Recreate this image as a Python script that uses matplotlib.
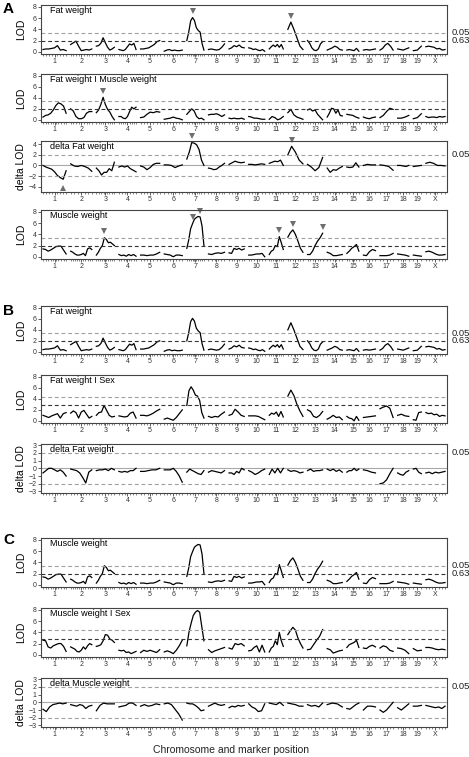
import numpy as np
import matplotlib
matplotlib.use("Agg")
import matplotlib.pyplot as plt
import matplotlib.transforms as mtransforms

plt.rcParams['font.family'] = ['Liberation Sans', 'DejaVu Sans']

chrom_names = ["1", "2", "3", "4", "5", "6", "7", "8", "9", "10", "11", "12",
               "13", "14", "15", "16", "17", "18", "19", "X"]
chrom_len = [104, 95, 81, 77, 86, 81, 77, 72, 68, 72, 63, 68, 68, 68, 54, 54, 59, 50, 36, 86]

# LOD profiles, one list per chromosome (markers evenly spread along it)
fat_lod = [
    [0.4, 0.5, 0.5, 0.6, 0.7, 1.1, 0.3, 0.4, 0.2],
    [1.3, 1.6, 1.9, 1.0, 0.2, 0.3, 0.4, 0.3, 0.5],
    [1.0, 1.1, 1.5, 2.5, 1.6, 0.8, 0.3, 0.5, 0.8],
    [0.4, 0.3, 0.2, 0.4, 0.9, 1.4, 1.2, 1.5, 0.4],
    [0.5, 0.5, 0.6, 0.7, 1.0, 1.3, 1.8, 2.0],
    [0.1, 0.3, 0.4, 0.2, 0.3, 0.2, 0.2, 0.3],
    [2.0, 3.5, 5.5, 6.1, 5.6, 4.3, 3.8, 3.5, 1.5, 0.3],
    [0.4, 0.5, 0.4, 0.3, 0.4, 0.8, 1.4],
    [0.5, 0.7, 1.1, 0.9, 1.2, 0.8, 0.7],
    [0.7, 0.6, 0.4, 0.5, 0.3, 0.2, 0.4, 0.1],
    [0.5, 0.9, 1.2, 0.9, 1.3, 0.8, 1.3, 0.5],
    [4.0, 5.3, 4.0, 2.5, 1.0, 0.4],
    [2.0, 1.5, 0.7, 0.3, 0.2, 0.5, 1.4, 1.8],
    [0.3, 0.5, 0.7, 1.0, 0.8, 0.4, 0.3],
    [0.3, 0.4, 0.3, 0.2, 0.6, 0.1],
    [0.3, 0.4, 0.3, 0.4, 0.5],
    [0.3, 0.6, 1.2, 1.5, 1.0, 0.3],
    [0.5, 0.4, 0.3, 0.5, 0.7],
    [0.2, 0.3, 1.0],
    [0.9, 1.0, 0.9, 0.8, 0.5, 0.6, 0.3, 0.4],
]

fat_given_muscle = [
    [0.5, 0.8, 0.9, 1.2, 1.8, 2.6, 3.1, 2.9, 2.5, 1.2],
    [2.0, 1.6, 0.6, 0.2, 0.2, 0.4, 1.2, 1.5, 1.5],
    [1.3, 1.8, 2.8, 4.1, 2.8, 1.9, 1.4, 0.6, 0.0],
    [0.6, 0.6, 0.3, 0.2, 0.6, 1.5, 2.3, 2.0, 2.3],
    [0.4, 0.5, 1.0, 1.4, 1.3, 1.5, 1.4],
    [0.1, 0.2, 0.3, 0.5, 0.3, 0.2, 0.0],
    [1.0, 1.5, 2.0, 1.6, 0.6, 0.2, 0.3, 0.0],
    [0.9, 1.0, 1.0, 1.1, 0.9, 0.6, 0.9],
    [0.3, 0.2, 0.3, 0.2, 0.2, 0.3, 0.1],
    [0.6, 0.5, 0.3, 0.3, 0.2, 0.1, 0.1],
    [0.1, 0.6, 0.4, 0.0, 0.2, 0.6],
    [1.3, 1.9, 0.9, 0.5, 0.3, 0.1],
    [1.8, 2.0, 1.6, 1.8, 1.0, 0.5, 0.0],
    [0.5, 1.2, 2.1, 2.0, 1.2, 1.8, 0.8, 0.7],
    [1.0, 0.9, 0.8, 0.5, 0.3],
    [0.5, 0.3, 0.2, 0.4, 0.5],
    [0.4, 0.8, 1.5, 2.1, 1.9],
    [0.3, 0.3, 0.5, 0.8],
    [0.2, 0.4, 1.1],
    [0.6, 0.4, 0.5, 0.5, 0.4, 0.6, 0.5, 0.6],
]

delta_fat_muscle = [
    [0.0, -0.3, -0.5, -0.7, -1.2, -1.9, -2.3, -2.6, -1.0],
    [0.3, -0.1, -0.2, 0.0, -0.2, -0.5, -1.1],
    [-0.5, -1.0, -1.8, -1.3, -1.3, -0.6, -1.0, 0.6],
    [-0.3, -0.1, -0.3, -0.1, -0.6, -0.9, -1.2],
    [-0.1, -0.3, -0.8, -0.4, 0.2, 0.4, 0.4],
    [0.1, 0.1, 0.0, -0.4, -0.1, 0.1],
    [1.2, 2.5, 4.3, 4.2, 3.9, 3.0, 1.0, 0.0],
    [-0.5, -0.6, -0.8, -0.7, -0.3, 0.0, 0.4],
    [0.2, 0.5, 0.8, 0.6, 0.5, 0.6],
    [0.2, 0.2, 0.1, 0.2, 0.3, 0.2],
    [0.4, 0.6, 0.8, 0.7, 1.0, 0.0],
    [2.0, 3.6, 2.5, 1.0, 0.3],
    [0.2, -0.3, -1.0, -0.4, 1.5],
    [-0.5, -1.3, -0.8, -0.9, -0.5, -0.2],
    [-0.3, -0.4, -0.3, 0.5, -0.3],
    [0.0, 0.2, 0.1, 0.1],
    [0.1, 0.0, -0.2, -0.9],
    [0.0, 0.0, -0.1, -0.2, 0.0],
    [-0.2, -0.1, 0.0],
    [0.4, 0.6, 0.4, 0.0, 0.0, -0.1],
]

muscle_lod = [
    [1.4, 1.3, 1.0, 1.2, 1.5, 1.8, 1.9, 1.9, 1.2, 0.5],
    [1.0, 0.8, 0.5, 0.3, 0.3, 0.4, 0.6, 0.2, 1.4, 1.6, 1.3],
    [0.3, 0.8, 1.5, 2.0, 3.4, 3.1, 2.5, 2.6, 2.3, 2.0],
    [0.4, 0.2, 0.3, 0.1, 0.4, 0.2, 0.4, 0.1],
    [0.3, 0.3, 0.2, 0.3, 0.3, 0.5, 0.8],
    [0.5, 0.4, 0.3, 0.0, 0.3, 0.3, 0.2],
    [1.5, 3.0, 5.0, 5.9, 6.7, 7.0, 7.2, 7.1, 5.5, 2.0],
    [0.5, 0.4, 0.6, 0.7, 0.6, 0.8],
    [0.7, 0.6, 1.5, 1.3, 1.5, 1.2, 1.4],
    [0.3, 0.3, 0.4, 0.5, 0.5, 0.6, 0.0],
    [0.4, 1.0, 1.2, 2.0, 1.8, 3.6, 2.5, 1.3],
    [3.5, 4.3, 4.8, 4.0, 2.8, 1.5, 0.8],
    [0.4, 0.4, 1.0, 2.0, 2.8, 3.4, 4.2],
    [0.8, 0.6, 0.2, 0.2, 0.3, 0.4],
    [0.6, 1.0, 1.5, 1.8, 2.2, 1.0],
    [0.3, 0.2, 0.9, 1.3, 1.1],
    [0.2, 0.2, 0.2, 0.3, 0.6],
    [0.5, 0.4, 0.3, 0.1],
    [0.3, 0.2, 0.1],
    [0.9, 1.0, 0.8, 0.5, 0.3, 0.3, 0.4],
]

fat_given_sex = [
    [1.0, 0.8, 0.6, 0.9, 1.1, 1.3, 0.5, 1.3, 1.5],
    [1.4, 1.8, 1.5, 0.5, 1.6, 1.9, 1.2, 0.5, 0.8],
    [1.0, 1.5, 1.6, 2.8, 1.9, 1.0, 0.7, 0.8],
    [0.9, 0.8, 0.7, 0.8, 1.4, 1.6, 0.5],
    [1.0, 1.0, 0.9, 1.1, 1.4, 1.8, 2.1],
    [0.3, 0.5, 0.3, 0.1, 0.6, 1.3, 2.0],
    [2.8, 5.5, 6.2, 5.6, 4.7, 4.5, 3.7, 1.5, 0.5],
    [0.8, 0.6, 0.8, 0.7, 1.2, 1.6],
    [1.0, 1.2, 2.1, 1.6, 1.0, 0.8],
    [0.9, 0.9, 0.9, 0.8, 0.5, 0.2],
    [1.0, 1.4, 1.2, 1.6, 0.8, 1.7, 0.7],
    [4.5, 5.6, 4.6, 3.0, 1.8, 0.8],
    [2.0, 1.7, 0.8, 0.6, 1.0, 1.7],
    [0.3, 0.6, 1.0, 0.6, 0.7, 0.2],
    [0.8, 0.5, 0.4, 0.0, 0.8, 0.1],
    [0.6, 0.7, 0.8, 0.9],
    [2.2, 2.5, 2.7, 2.3, 0.6],
    [1.0, 1.2, 0.9, 0.8],
    [0.2, 0.1, 1.5, 1.6],
    [1.5, 1.3, 1.4, 1.1, 1.2, 0.8, 1.0, 0.9],
]

delta_fat_sex = [
    [-0.6, -0.3, 0.0, 0.0, -0.2, -0.4, -0.2, -0.5, -1.0],
    [-0.1, -0.2, -0.3, -0.6, -1.2, -1.9, -0.5, -0.2],
    [-0.3, -0.2, -0.2, -0.1, -0.3, 0.0, -0.2],
    [-0.4, -0.5, -0.4, -0.5, -0.3, -0.3, 0.0],
    [-0.4, -0.4, -0.3, -0.2, -0.2, 0.0],
    [-0.2, -0.2, -0.2, 0.0, -0.4, -1.0, -1.8],
    [-0.5, -0.1, -0.3, -0.5, -0.7, -0.8, -0.3],
    [-0.5, -0.3, -0.4, -0.5, -0.6, -0.3],
    [-0.6, -0.6, -0.8, -0.4, -0.6, 0.0, -0.2],
    [-0.3, -0.5, -0.8, -0.6, -0.3, -0.1],
    [-0.8, -0.1, -0.6, 0.0, -0.6, 0.0],
    [-0.2, -0.4, -0.3, -0.4, -0.6, -0.5],
    [-0.3, -0.1, -0.4, -0.3, -0.3, -0.2],
    [-0.1, -0.3, -0.1, -0.4, -0.2, -0.5],
    [-0.5, -0.3, -0.3, 0.0, -0.3, -0.1],
    [-0.2, -0.3, -0.5, -0.6],
    [-2.0, -1.9, -1.5, -0.7, 0.0],
    [-0.6, -0.8, -0.9, -0.5, -0.3],
    [-0.1, 0.0, -0.5, -0.7],
    [-0.6, -0.5, -0.7, -0.5, -0.6, -0.5, -0.4],
]

muscle_given_sex = [
    [2.6, 2.5, 1.4, 1.2, 1.6, 1.8, 2.0, 2.0, 1.5, 0.6],
    [1.4, 1.2, 1.0, 0.6, 0.5, 0.8, 1.4, 1.0, 1.6, 2.0, 1.8],
    [1.5, 1.6, 1.8, 2.5, 3.6, 3.5, 2.8, 2.6, 2.2],
    [0.8, 0.7, 0.8, 0.4, 0.5, 0.2, 0.4, 0.6],
    [0.4, 0.8, 0.6, 0.8, 0.6, 0.4, 0.9],
    [0.5, 0.7, 0.5, 0.2, 0.8, 1.6, 2.6],
    [1.6, 4.0, 5.6, 7.0, 7.6, 7.9, 7.6, 5.0, 2.5],
    [0.9, 0.4, 0.7, 0.9, 1.1, 1.3],
    [1.2, 1.0, 2.0, 1.8, 2.0, 1.6],
    [0.7, 0.8, 1.3, 1.6, 0.5, 1.7, 0.5],
    [0.5, 1.2, 1.5, 2.5, 1.8, 4.0, 2.5, 1.5],
    [3.6, 4.3, 4.9, 4.4, 3.0, 2.0, 1.2],
    [0.9, 1.0, 1.8, 2.6, 3.3, 4.5],
    [1.1, 0.9, 0.3, 0.5, 0.7, 0.8],
    [1.3, 1.8, 2.0, 2.2, 2.6, 1.3],
    [1.2, 1.1, 1.5, 1.7, 1.4],
    [1.2, 1.6, 1.4, 0.8, 0.6],
    [1.2, 1.1, 0.8, 0.2],
    [1.1, 0.7, 0.8],
    [1.3, 1.3, 1.2, 1.0, 0.9, 1.0, 0.9],
]

delta_muscle_sex = [
    [-0.9, -1.2, -0.6, -0.3, -0.2, -0.1, -0.2, -0.1],
    [-0.3, -0.4, -0.5, -0.3, -0.4, -0.8, -0.5, -0.4],
    [-1.1, -0.4, -0.1, -0.2, -0.2, -0.2],
    [-0.6, -0.5, -0.4, -0.1, -0.1, -0.4],
    [-0.5, -0.3, -0.5, -0.4, -0.2, -0.3],
    [-0.2, -0.1, -0.3, -0.9, -1.5, -2.3],
    [-0.1, -0.2, -0.2, -0.4, -0.7, -1.1, -1.0],
    [-0.5, -0.3, -0.1, -0.3, -0.4, -0.3],
    [-0.7, -0.5, -0.6, -0.4, -0.5, -0.4],
    [-0.2, -0.6, -0.8, -1.2, -1.1, -0.2],
    [-0.1, -0.2, -0.3, 0.0, -0.4],
    [-0.1, -0.2, -0.3, -0.5, -0.5],
    [-0.3, -0.5, -0.4, -0.6, -0.1],
    [-0.3, -0.1, -0.2, -0.6],
    [-0.8, -0.9, -0.6, -0.3, -0.1],
    [-1.0, -0.5, -0.5, -0.6],
    [-1.0, -1.3, -1.0, -0.5, 0.0],
    [-0.7, -1.0, -0.6, -0.2],
    [-0.5, -0.5, -0.4],
    [-0.4, -0.5, -0.6, -0.7, -0.6, -0.8, -0.5],
]

# significance thresholds (genome-wide 0.05 and 0.63)
thr_fat = [3.4, 2.0]
thr_fat_sex = [4.35, 2.8]
thr_muscle_sex = [4.5, 2.9]
thr_delta = 2.0

# peak arrows: (chromosome index, marker index, pointing down?)
arrows_fat = [(6, 3, True), (11, 1, True)]
arrows_fat_muscle = [(2, 3, True)]
arrows_delta_fat = [(6, 2, True), (11, 1, True), (0, 7, False)]
arrows_muscle = [(2, 4, True), (6, 3, True), (6, 7, True), (10, 5, True), (11, 2, True), (12, 6, True)]

gap = 20.5
pad = 9.0
starts = []
pos = pad
for L in chrom_len:
    starts.append(pos)
    pos += L + gap
x_total = pos - gap + pad
centers = [s + L / 2 for s, L in zip(starts, chrom_len)]

W, H = 469, 757
fig = plt.figure(figsize=(W / 100, H / 100), dpi=100)

panels = [
    # data, title, kind, thresholds, right labels, top px, bottom px, arrows
    (fat_lod, "Fat weight", "lod", thr_fat, True, 5, 54, arrows_fat),
    (fat_given_muscle, "Fat weight I Muscle weight", "lod", thr_fat, False, 74, 122, arrows_fat_muscle),
    (delta_fat_muscle, "delta Fat weight", "dbig", thr_delta, True, 141, 192, arrows_delta_fat),
    (muscle_lod, "Muscle weight", "lod", thr_fat, False, 210, 259, arrows_muscle),
    (fat_lod, "Fat weight", "lod", thr_fat, True, 306, 354, []),
    (fat_given_sex, "Fat weight I Sex", "lod", thr_fat_sex, False, 375, 423, []),
    (delta_fat_sex, "delta Fat weight", "dsmall", thr_delta, True, 444, 493, []),
    (muscle_lod, "Muscle weight", "lod", thr_fat, True, 538, 587, []),
    (muscle_given_sex, "Muscle weight I Sex", "lod", thr_muscle_sex, False, 608, 657, []),
    (delta_muscle_sex, "delta Muscle weight", "dsmall", thr_delta, True, 678, 727, []),
]

frame_col = "#444444"
for data, title, kind, thr, right_lab, top, bot, arrows in panels:
    ax = fig.add_axes([41 / W, 1 - bot / H, 406 / W, (bot - top) / H])
    xs_all = []
    for ci, vals in enumerate(data):
        xs = np.linspace(starts[ci], starts[ci] + chrom_len[ci], len(vals))
        xs_all.extend(xs)
        ax.plot(xs, vals, color="black", lw=0.9, solid_joinstyle="round")
    for ci, mi, down in arrows:
        vals = data[ci]
        xs = np.linspace(starts[ci], starts[ci] + chrom_len[ci], len(vals))
        off = mtransforms.offset_copy(ax.transData, fig=fig, x=0, y=4.5 if down else -6,
                                      units="points")
        ax.plot(xs[mi], vals[mi], marker="v" if down else "^", color="#6e6e6e",
                ms=3.8, mew=0, transform=off, clip_on=False)

    if kind == "lod":
        ax.set_ylim(-0.4, 8.35)
        ax.set_yticks([0, 2, 4, 6, 8])
        ax.axhline(thr[0], color="#a0a0a0", lw=0.8, ls=(0, (3.5, 2.5)))
        ax.axhline(thr[1], color="#333333", lw=0.8, ls=(0, (3.5, 2.5)))
        ax.set_ylabel("LOD", fontsize=7.5)
        if right_lab:
            tr = mtransforms.blended_transform_factory(ax.transAxes, ax.transData)
            ax.text(1.012, thr[0], "0.05", transform=tr, fontsize=6.8, va="center", color="#222222")
            ax.text(1.012, thr[1], "0.63", transform=tr, fontsize=6.8, va="center", color="#222222")
    else:
        if kind == "dbig":
            ax.set_ylim(-5.0, 4.6)
            ax.set_yticks([-4, -2, 0, 2, 4])
        else:
            ax.set_ylim(-3.2, 3.15)
            ax.set_yticks([-3, -2, -1, 0, 1, 2, 3])
        ax.axhline(0, color="#a8a8a8", lw=0.8, zorder=0)
        ax.axhline(thr, color="#a0a0a0", lw=0.8, ls=(0, (3.5, 2.5)))
        ax.axhline(-thr, color="#a0a0a0", lw=0.8, ls=(0, (3.5, 2.5)))
        ax.set_ylabel("delta LOD", fontsize=7.5)
        if right_lab:
            tr = mtransforms.blended_transform_factory(ax.transAxes, ax.transData)
            ax.text(1.012, thr, "0.05", transform=tr, fontsize=6.8, va="center", color="#222222")
    ax.yaxis.set_label_coords(-0.036, 0.5)

    ax.set_xlim(0, x_total)
    ax.set_xticks(centers)
    ax.set_xticklabels(chrom_names)
    ax.set_xticks(xs_all, minor=True)
    ax.tick_params(axis="both", which="major", labelsize=5, length=2, width=0.6,
                   color=frame_col, pad=1.2, labelcolor="#333333")
    ax.tick_params(axis="x", which="minor", length=1.2, width=0.5, color="#555555")
    for sp in ax.spines.values():
        sp.set_color(frame_col)
        sp.set_linewidth(0.8)
    ax.spines["bottom"].set_linestyle((0, (1, 1)))
    ax.text(0.022, 0.985, title, transform=ax.transAxes, fontsize=6.5, va="top", ha="left")

for letter, ypx in [("A", 9), ("B", 311), ("C", 540)]:
    fig.text(3 / W, 1 - ypx / H, letter, fontsize=11, fontweight="bold", va="center", ha="left")

fig.text(231 / W, 1 - 750 / H, "Chromosome and marker position", fontsize=7.5,
         ha="center", va="center", color="#222222")

fig.savefig("out.png", dpi=100)
